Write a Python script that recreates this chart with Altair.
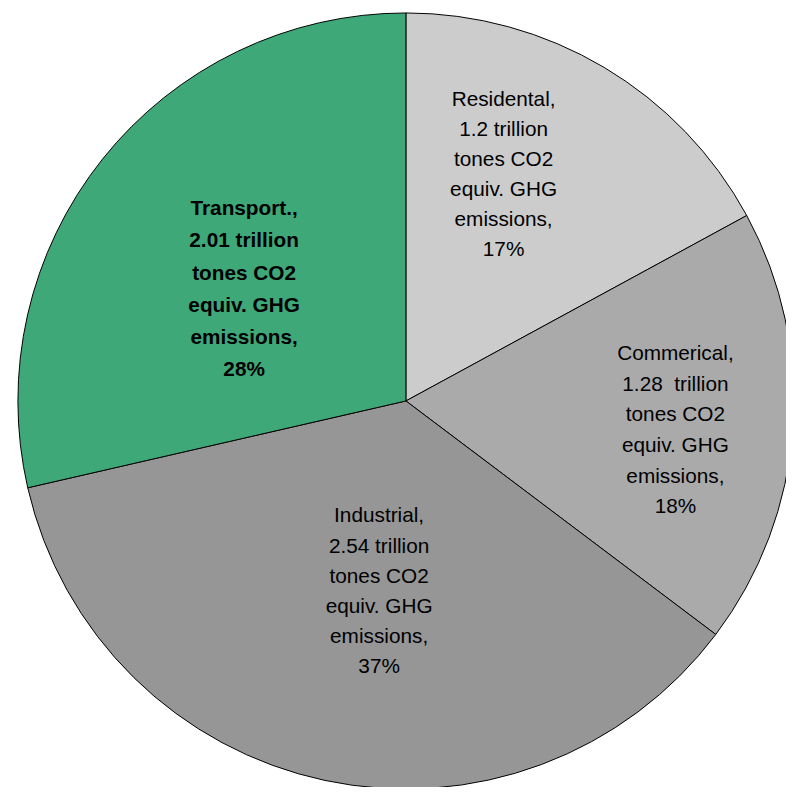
import altair as alt
import pandas as pd

categories = ["Residential", "Commercial", "Industrial", "Transport"]
values = [1.2, 1.28, 2.54, 2.01]
labels = [
    ["Residental,", "1.2 trillion\u00a0", "\u00a0tones CO2", "equiv. GHG", "emissions,", "\u00a017%"],
    ["Commerical,", "1.28 \u00a0trillion", "\u00a0 tones CO2", "equiv. GHG", "emissions,", "\u00a018%"],
    ["Industrial,", "2.54 trillion", "\u00a0 tones CO2", "equiv. GHG", "emissions,", "37%"],
    ["Transport.,", "2.01 trillion", "tones CO2", "equiv. GHG", "emissions,", "28%"],
]
colors = ["#cccccc", "#aaaaaa", "#969696", "#3fa878"]

df = pd.DataFrame({
    "category": categories,
    "value": values,
    "order": list(range(len(categories))),
    "label": labels,
})

CX, CY, R = 402, 393, 392

base = alt.Chart(df)

pie = base.mark_arc(stroke="black", strokeWidth=1).encode(
    theta=alt.Theta("value:Q", stack=True),
    order=alt.Order("order:Q"),
    color=alt.Color("category:N", scale=alt.Scale(domain=categories, range=colors), legend=None),
    x=alt.value(CX),
    y=alt.value(CY),
    radius=alt.value(R),
)

# label placement per slice: (radius, dx, dy, bold, lineHeight)
placement = {
    "Residential": (246, -27, -93, False, 30.5),
    "Commercial": (267, 6, -67, False, 31),
    "Industrial": (197, 14, -76, False, 30.5),
    "Transport": (200, -7, -69, True, 32.5),
}

text_layers = []
for cat in categories:
    r, dx, dy, bold, lh = placement[cat]
    t = base.mark_text(
        font="Liberation Sans",
        fontSize=21,
        fontWeight="bold" if bold else "normal",
        lineHeight=lh,
        align="center",
        baseline="middle",
        dx=dx,
        dy=dy,
        color="black",
    ).encode(
        theta=alt.Theta("value:Q", stack=True),
        order=alt.Order("order:Q"),
        text="label",
        x=alt.value(CX),
        y=alt.value(CY),
        radius=alt.value(r),
        opacity=alt.condition(alt.datum.category == cat, alt.value(1), alt.value(0)),
    )
    text_layers.append(t)

chart = alt.layer(pie, *text_layers).properties(
    width=786, height=779, autosize=alt.AutoSizeParams(type="none"), padding=0
).configure_view(stroke=None)

chart.save("out.html", embed_options={"renderer": "svg", "actions": False})
